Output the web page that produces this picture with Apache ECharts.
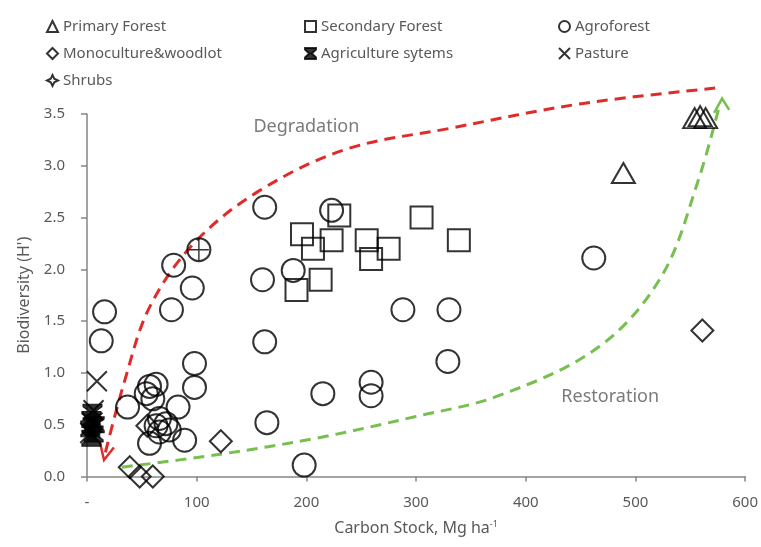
<!DOCTYPE html>
<html>
<head>
<meta charset="utf-8">
<script src="https://cdn.jsdelivr.net/npm/echarts@6/dist/echarts.min.js"></script>
<style>html,body{margin:0;padding:0;background:#fff;}#c{width:761px;height:547px;}</style>
</head>
<body>
<div id="c"></div>
<script>
// ---- data (Carbon stock Mg/ha, Biodiversity H') ----
const primaryForest = [[554,3.46],[559,3.48],[564,3.46],[489,2.93]];
const secondaryForest = [[230,2.52],[196,2.34],[223,2.28],[206,2.20],[255,2.28],[275,2.20],[259,2.10],[213,1.90],[191,1.80],[305,2.50],[339,2.28]];
const agroforest = [[16,1.59],[13,1.31],[37,0.67],[57,0.87],[63,0.89],[54,0.80],[60,0.75],[98,1.09],[98,0.86],[83,0.67],[66,0.56],[63,0.49],[72,0.51],[75,0.45],[57,0.32],[89,0.35],[66,0.43],[79,2.04],[96,1.82],[77,1.61],[102,2.19],[162,2.60],[223,2.57],[160,1.90],[188,1.99],[288,1.61],[330,1.61],[162,1.30],[329,1.11],[215,0.80],[259,0.91],[259,0.78],[164,0.52],[198,0.11],[462,2.11]];
const monoculture = [[39,0.09],[48,0.0],[60,0.0],[55,0.49],[122,0.34],[561,1.41]];
const agriculture = [[5,0.62],[4,0.55],[7,0.50],[3,0.46],[6,0.41],[4,0.37]];
const pasture = [[9,0.92],[6,0.64],[5,0.52],[3,0.42]];
const shrubs = [[102,2.19]];
const degradationCurve = [[572.7,3.75],[450.9,3.60],[330,3.36],[236.4,3.16],[157.3,2.76],[98.2,2.26],[57.3,1.64],[34.5,0.93],[15.5,0.18]];
const degradationHead = [[11.8,0.33],[15.5,0.16],[24.5,0.28]];
const restorationCurve = [[31.8,0.09],[118.2,0.21],[209.1,0.37],[300,0.58],[375.5,0.78],[466.4,1.25],[523.6,1.93],[557.3,2.86],[577.3,3.61]];
const restorationHead = [[571.8,3.51],[579,3.65],[585.5,3.54]];
const annotations = [{name:'Degradation', value:[200,3.38]},{name:'Restoration', value:[477,0.77]}];
const xTickLabels = ['-','100','200','300','400','500','600'];
const yTickLabels = ['0.0','0.5','1.0','1.5','2.0','2.5','3.0','3.5'];
const seriesNames = ['Primary Forest','Secondary Forest','Agroforest','Monoculture&woodlot','Agriculture sytems','Pasture','Shrubs'];

const FONT = 'Noto Sans';
const TXT = '#595959';
const hollow = {color:'rgba(0,0,0,0)', borderColor:'#000', borderWidth:2};
const HOURGLASS = 'path://M0,0 L10,0 L10,1.5 L6.2,5 L10,8.5 L10,10 L0,10 L0,8.5 L3.8,5 L0,1.5 Z';
const XMARK = 'path://M0,0 L10,10 M10,0 L0,10';
const PLUS = 'path://M5,0 L5,10 M0,5 L10,5';
const STAR4 = 'path://M5,0 L6.6,3.4 L10,5 L6.6,6.6 L5,10 L3.4,6.6 L0,5 L3.4,3.4 Z';
const chart = echarts.init(document.getElementById('c'), null, {renderer:'canvas'});

const legendIcons = {
  'Primary Forest':'triangle','Secondary Forest':'rect','Agroforest':'circle',
  'Monoculture&woodlot':'diamond','Agriculture sytems':HOURGLASS,'Pasture':XMARK,'Shrubs':STAR4
};
function legendCol(names, left){
  return {
    data: names.map(n=>({name:n, icon:legendIcons[n]})), orient:'vertical', left:left, top:14,
    itemWidth:11, itemHeight:11, itemGap:12,
    textStyle:{fontFamily:FONT, fontSize:15, color:TXT, lineHeight:15}
  };
}
function arrowSeries(curve, head, color){
  return {
    type:'custom', coordinateSystem:'cartesian2d', data:curve, silent:true, z:1, clip:false,
    renderItem:function(params, api){
      if (params.dataIndex !== 0) return null;
      const pts = curve.map(p=>api.coord(p));
      const hp = head.map(p=>api.coord(p));
      return {type:'group', children:[
        {type:'polyline', shape:{points:pts, smooth:0.35}, style:{stroke:color, lineWidth:3, lineDash:[11,7], fill:null}},
        {type:'polyline', shape:{points:hp}, style:{stroke:color, lineWidth:2.5, fill:null}}
      ]};
    }
  };
}

const option = {
  backgroundColor:'#fff',
  animation:false,
  legend:[
    legendCol([seriesNames[0],seriesNames[3],seriesNames[6]], 41),
    legendCol([seriesNames[1],seriesNames[4]], 299),
    legendCol([seriesNames[2],seriesNames[5]], 553)
  ],
  grid:{left:87, right:14, top:114, bottom:70.5},
  xAxis:{
    type:'value', min:0, max:600, interval:100,
    name:'Carbon Stock, Mg ha{sup|-1}', nameLocation:'middle', nameGap:43,
    nameTextStyle:{fontFamily:FONT, fontSize:16, color:TXT, rich:{sup:{fontFamily:FONT, fontSize:9, color:TXT, verticalAlign:'top', padding:[0,0,8,0]}}},
    axisLine:{lineStyle:{color:'#868686', width:1.5}},
    axisTick:{show:true, length:5, lineStyle:{color:'#868686', width:1.5}},
    axisLabel:{margin:19, fontFamily:FONT, fontSize:15, color:TXT, formatter:(v)=>xTickLabels[Math.round(v/100)]},
    splitLine:{show:false}
  },
  yAxis:{
    type:'value', min:0, max:3.5, interval:0.5,
    name:"Biodiversity (H')", nameLocation:'middle', nameGap:53, nameRotate:90,
    nameTextStyle:{fontFamily:FONT, fontSize:16, color:TXT},
    axisLine:{show:true, lineStyle:{color:'#868686', width:1.5}},
    axisTick:{show:true, length:6, lineStyle:{color:'#868686', width:1.5}},
    axisLabel:{margin:22, fontFamily:FONT, fontSize:15, color:TXT, formatter:(v)=>yTickLabels[Math.round(v/0.5)]},
    splitLine:{show:false}
  },
  series:[
    arrowSeries(degradationCurve, degradationHead, '#e02b2b'),
    arrowSeries(restorationCurve, restorationHead, '#77bf4f'),
    {name:seriesNames[0], type:'scatter', data:primaryForest, symbol:'triangle', symbolSize:[23,20], itemStyle:hollow, z:3},
    {name:seriesNames[1], type:'scatter', data:secondaryForest, symbol:'rect', symbolSize:22, itemStyle:hollow, z:3},
    {name:seriesNames[2], type:'scatter', data:agroforest, symbol:'circle', symbolSize:23, itemStyle:hollow, z:3},
    {name:seriesNames[3], type:'scatter', data:monoculture, symbol:'diamond', symbolSize:[22,22], itemStyle:hollow, z:3},
    {name:seriesNames[4], type:'scatter', data:agriculture, symbol:HOURGLASS, symbolSize:[19,16], itemStyle:{color:'#000', borderColor:'#000', borderWidth:1}, z:3},
    {name:seriesNames[5], type:'scatter', data:pasture, symbol:XMARK, symbolSize:[20,20], itemStyle:{color:'rgba(0,0,0,0)', borderColor:'#000', borderWidth:2}, z:3},
    {name:seriesNames[6], type:'scatter', data:shrubs, symbol:PLUS, symbolSize:[20,22], itemStyle:{color:'rgba(0,0,0,0)', borderColor:'#000', borderWidth:1.5}, z:3},
    {type:'scatter', data:annotations, symbolSize:1, itemStyle:{color:'rgba(0,0,0,0)'}, silent:true, clip:false, z:4,
     label:{show:true, position:'inside', formatter:(p)=>p.name, fontFamily:FONT, fontSize:18, color:TXT}}
  ]
};
chart.setOption(option);
</script>
</body>
</html>
